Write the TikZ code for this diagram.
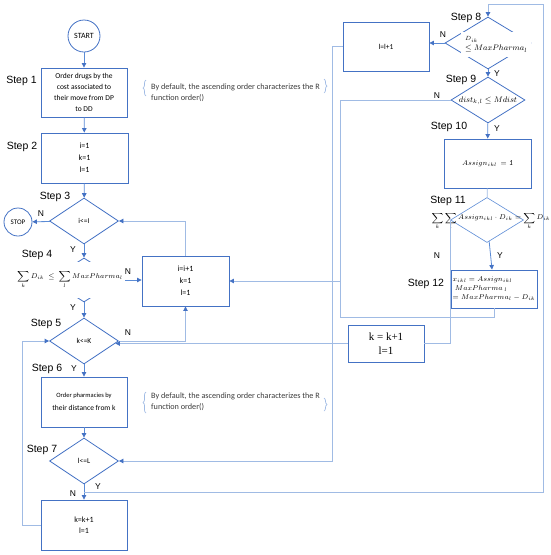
\documentclass[tikz,border=0pt]{standalone}
\usepackage{fontspec}
\setmainfont{Carlito}
\newfontfamily\stepfont{Liberation Sans}
\newfontfamily\kfont{Liberation Serif}
\usepackage{amsmath}
\usepackage{xcolor}
\usetikzlibrary{arrows,shapes,positioning,fit,arrows.meta,backgrounds,calc,decorations.pathreplacing}

\definecolor{boxblue}{RGB}{68,114,196}
\definecolor{linkblue}{RGB}{91,139,213}
\definecolor{routeblue}{RGB}{160,187,228}
\definecolor{notegray}{RGB}{60,60,60}

\tikzset{
  box/.style={draw=boxblue, line width=0.9pt, minimum width=86pt, minimum height=49pt, inner sep=1pt, align=center, font=\fontsize{7.5}{11}\selectfont},
  decision/.style={diamond, draw=boxblue, line width=0.8pt, inner sep=0pt, minimum width=69pt, minimum height=46pt, font=\fontsize{7.5}{9}\selectfont},
  term/.style={circle, draw=boxblue, line width=0.8pt, inner sep=0pt},
  steplbl/.style={font=\stepfont\fontsize{10.5}{12}\selectfont},
  yn/.style={font=\stepfont\fontsize{8.5}{10}\selectfont},
  arr/.style={-{Triangle[length=4.5pt,width=4.5pt,color=boxblue]}},
  link/.style={draw=linkblue, line width=0.8pt, arr},
  route/.style={draw=routeblue, line width=0.8pt},
  note/.style={align=left, text=notegray, font=\fontsize{8.2}{10.5}\selectfont, anchor=west, inner sep=0pt},
  bracepath/.style={draw=routeblue, line width=0.7pt, decorate, decoration={brace, amplitude=3pt}},
  formula/.style={fill=white, inner sep=1pt},
}

\begin{document}
\begin{tikzpicture}[x=1pt,y=-1pt]
\useasboundingbox (0,0) rectangle (550,555);

\node[term, minimum size=32pt, font=\fontsize{8}{9}\selectfont] (start) at (84,36) {START};
\node[box] (order1) at (84,92.5) {Order drugs by the\\cost associated to\\their move from DP\\to DD};
\node[box, minimum width=87pt, minimum height=50pt, font=\fontsize{8}{12}\selectfont] (init) at (84.5,158) {i=1\\k=1\\l=1};
\node[decision] (s3) at (84,221) {i<=I};
\node[term, minimum size=28pt, font=\fontsize{7}{8}\selectfont] (stop) at (18,222) {STOP};
\node[decision, minimum width=70pt, minimum height=44pt] (s4) at (84,280) {};
\node[box, minimum width=87pt, minimum height=50pt, font=\fontsize{8}{12}\selectfont] (inext) at (185.5,281) {i=i+1\\k=1\\l=1};
\node[decision] (s5) at (84,341) {k<=K};
\node[box, minimum height=50pt] (order2) at (84,402) {{\fontsize{6.5}{8}\selectfont Order pharmacies by}\\[2pt]their distance from k};
\node[decision] (s7) at (84,461) {l<=L};
\node[box, minimum height=50pt, font=\fontsize{8}{11}\selectfont] (knext1) at (84,525) {k=k+1\\l=1};

\node[box] (lnext) at (386,46.5) {l=l+1};
\node[decision, minimum width=86pt, minimum height=52pt] (s8) at (488,43) {};
\node[decision, minimum width=74pt, minimum height=46pt] (s9) at (488,100) {};
\node[font=\fontsize{8.5}{10}\selectfont] (s9txt) at (488,101) {$dist_{k,l} \le Mdist$};
\node[box, minimum width=87pt, font=\fontsize{7.5}{10}\selectfont] (assign) at (487.5,163.5) {$Assign_{ikl}\,=\textit{1}$};
\node[decision, draw=linkblue, line width=0.6pt, minimum width=73pt, minimum height=45pt] (s11) at (487,220) {};
\node[font=\fontsize{7.3}{8}\selectfont, inner sep=0pt] (s11txt) at (491,221) {$\displaystyle\sum_k\sum_l Assign_{ikl}\cdot D_{ik}=\sum_k D_{ik}$};
\node[box, minimum height=38pt, align=left, font=\fontsize{7}{9}\selectfont] (upd) at (494,289) {$x_{ikl}=Assign_{ikl}$\\$\;MaxPharma_{\ l}$\\$=MaxPharma_l-D_{ik}$};
\node[box, minimum width=76pt, minimum height=37pt, font=\kfont\fontsize{11}{14}\selectfont] (knext) at (386,343.5) {k = k+1\\l=1};

\foreach \n/\x/\y in {1/21.5/81, 2/22/147, 3/55/197, 4/37/255, 5/46/324, 6/47/369, 7/42/450, 8/466/18, 9/461/80, 10/449/127, 11/448/201, 12/426/284}
  \node[steplbl] (step\n) at (\x,\y) {Step \n};

\foreach \t/\x/\y [count=\i] in {N/41/214, Y/73/250, N/128/272, Y/73/308, N/128/333, Y/74/369, N/73/494, Y/98/487, N/443/35, Y/497/74, N/437/96, Y/497/129, N/437/256, Y/500/256}
  \node[yn] (yn\i) at (\x,\y) {\t};

\draw[link] (start) -- (order1);
\draw[link] (order1) -- (init);
\draw[link] (init) -- (s3);
\draw[link] (s3) -- (stop);
\draw[link] (s3) -- (s4);
\draw[link] (s4.east) -- (s4.east -| inext.west);
\draw[route, arr] (inext.north) |- (s3.east);
\draw[link] (s4) -- (s5);
\draw[route, arr] (s5.east) -| (inext.south);
\draw[link] (s5) -- (order2);
\draw[link] (order2) -- (s7);
\draw[link] (s7) -- (knext1);
\draw[route, arr] (knext1.west) -- ++(-18,0) |- (s5.west);
\coordinate (yfork) at (84,492);
\draw[route, arr] (yfork) -| (543,4) -| (s8.north);
\draw[link] (s8.west) -- (s8.west -| lnext.east);
\draw[route, arr] (lnext.west) -- ++(-10,0) |- (s7.east);
\draw[link] (s8) -- (s9);
\draw[route, arr] (s9.west) -| (340,281) -- (inext.east);
\draw[route] (upd.south) |- (340,317) -- (340,281);
\draw[link] (s9) -- (assign);
\draw[route] (assign) -- (s11);
\draw[link] (s11) -- (upd);
\draw[route] (s11.west) |- (knext.east);
\draw[route, arr] (knext.west) -- ($(knext.west -| s5.east)+(-3.5,0)$);

\node[formula, minimum width=110pt, minimum height=36pt, font=\fontsize{7.5}{9}\selectfont] (s4txt) at (70,280) {$\displaystyle\sum_k D_{ik}\ \le\ \sum_l MaxPharma_l$};
\node[formula, anchor=west, align=left, minimum width=70pt, minimum height=25pt, font=\fontsize{8.5}{10}\selectfont] (s8txt) at (461,44.5) {{\fontsize{6}{7}\selectfont$D_{ik}$}\\$\le MaxPharma_l$};

\node[note] (note1) at (151,92.5) {By default, the ascending order characterizes the R\\function order()};
\draw[bracepath] (146,96) -- (146,80);
\draw[bracepath] (324,79) -- (324,93);
\node[note] (note2) at (151,401.5) {By default, the ascending order characterizes the R\\function order()};
\draw[bracepath] (146,413) -- (146,392);
\draw[bracepath] (324,398) -- (324,411);
\end{tikzpicture}
\end{document}
